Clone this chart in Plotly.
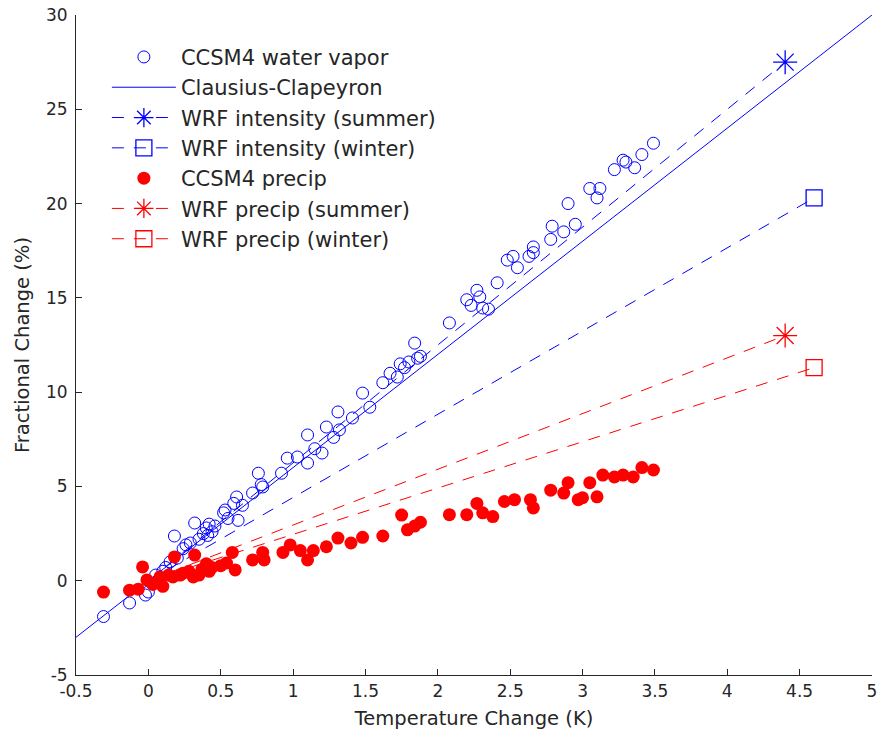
import plotly.graph_objects as go

# ---- data ----
wv_temp = [-0.31, -0.13, -0.02, 0.0, 0.05, 0.10, 0.12, 0.15, 0.18, 0.20, 0.24, 0.26, 0.29, 0.32,
           0.35, 0.38, 0.40, 0.41, 0.42, 0.44, 0.46, 0.52, 0.53, 0.55, 0.59, 0.61, 0.62, 0.65,
           0.72, 0.76, 0.78, 0.79, 0.92, 0.96, 1.03, 1.10, 1.10, 1.15, 1.20, 1.23, 1.28, 1.31,
           1.32, 1.41, 1.48, 1.53, 1.62, 1.67, 1.72, 1.74, 1.77, 1.80, 1.84, 1.86, 1.88, 2.08,
           2.20, 2.23, 2.27, 2.29, 2.31, 2.35, 2.41, 2.48, 2.52, 2.55, 2.63, 2.66, 2.66, 2.78,
           2.79, 2.87, 2.95, 2.90, 3.05, 3.10, 3.12, 3.22, 3.28, 3.30, 3.36, 3.41, 3.49]
wv_change = [-1.9, -1.18, -0.76, -0.6, 0.3, 0.5, 0.7, 1.0, 2.37, 1.2, 1.7, 1.9, 2.0, 3.06,
             2.2, 2.5, 2.8, 2.4, 3.0, 2.6, 2.9, 3.6, 3.75, 3.3, 4.1, 4.44, 3.2, 4.0,
             4.65, 5.7, 5.1, 4.97, 5.7, 6.5, 6.56, 6.24, 7.73, 7.0, 6.77, 8.15, 7.6, 8.95,
             8.0, 8.63, 9.95, 9.2, 10.5, 11.0, 10.8, 11.5, 11.3, 11.6, 12.6, 11.8, 11.9, 13.67,
             14.9, 14.6, 15.4, 15.05, 14.46, 14.4, 15.8, 17.0, 17.2, 16.6, 17.2, 17.4, 17.7, 18.1,
             18.8, 18.5, 18.9, 20.0, 20.8, 20.3, 20.8, 21.8, 22.3, 22.2, 21.9, 22.6, 23.2]

pr_temp = [-0.31, -0.13, -0.07, -0.04, -0.01, 0.03, 0.08, 0.10, 0.14, 0.17, 0.18, 0.22, 0.24,
           0.28, 0.31, 0.32, 0.35, 0.37, 0.40, 0.42, 0.44, 0.50, 0.54, 0.58, 0.60, 0.72, 0.79,
           0.80, 0.93, 0.98, 1.05, 1.10, 1.14, 1.23, 1.31, 1.40, 1.48, 1.62, 1.75, 1.79, 1.84,
           1.88, 2.08, 2.20, 2.27, 2.31, 2.38, 2.46, 2.53, 2.64, 2.66, 2.78, 2.87, 2.90, 2.97,
           3.00, 3.05, 3.10, 3.14, 3.22, 3.28, 3.35, 3.41, 3.49]
pr_change = [-0.6, -0.5, -0.45, 0.73, 0.04, -0.2, 0.2, -0.3, 0.3, 0.2, 1.26, 0.3, 0.4,
             0.5, 0.2, 1.36, 0.3, 0.6, 0.9, 0.5, 0.7, 0.8, 0.94, 1.5, 0.57, 1.1, 1.5,
             1.1, 1.5, 1.9, 1.6, 1.1, 1.6, 1.8, 2.26, 2.0, 2.3, 2.37, 3.48, 2.7, 2.9,
             3.1, 3.5, 3.5, 4.1, 3.6, 3.4, 4.2, 4.3, 4.3, 3.86, 4.8, 4.65, 5.2, 4.3,
             4.4, 5.2, 4.45, 5.6, 5.5, 5.6, 5.5, 6.0, 5.87]

cc_temp = [-0.5, 5.0]
cc_change = [-3.0, 30.0]

wrf_names = ["WRF intensity (summer)", "WRF intensity (winter)",
             "WRF precip (summer)", "WRF precip (winter)"]
wrf_temp_start = [0.0, 0.0, 0.0, 0.0]
wrf_change_start = [0.0, 0.0, 0.0, 0.0]
wrf_temp_end = [4.4, 4.6, 4.4, 4.6]
wrf_change_end = [27.5, 20.3, 13.0, 11.3]

x_ticks = [-0.5, 0, 0.5, 1, 1.5, 2, 2.5, 3, 3.5, 4, 4.5, 5]
x_tick_labels = ["-0.5", "0", "0.5", "1", "1.5", "2", "2.5", "3", "3.5", "4", "4.5", "5"]
y_ticks = [-5, 0, 5, 10, 15, 20, 25, 30]
y_tick_labels = ["-5", "0", "5", "10", "15", "20", "25", "30"]

# ---- styles ----
BLUE = "#0000FF"
RED = "#FF0000"
TXT = "#262626"
FONT = "DejaVu Sans"
wrf_colors = [BLUE, BLUE, RED, RED]
wrf_symbols = ["asterisk-open", "square-open", "asterisk-open", "square-open"]
wrf_sizes = [20, 16, 20, 16]
wrf_ranks = [3, 4, 6, 7]

fig = go.Figure()

fig.add_trace(go.Scatter(
    x=wv_temp, y=wv_change, mode="markers", name="CCSM4 water vapor",
    marker=dict(symbol="circle-open", size=12, color=BLUE, line=dict(width=1, color=BLUE)),
    legendrank=1))

fig.add_trace(go.Scatter(
    x=cc_temp, y=cc_change, mode="lines", name="Clausius-Clapeyron",
    line=dict(color=BLUE, width=1), legendrank=2))

for i in range(4):
    fig.add_trace(go.Scatter(
        x=[wrf_temp_start[i], wrf_temp_end[i]], y=[wrf_change_start[i], wrf_change_end[i]],
        mode="lines", line=dict(color=wrf_colors[i], width=1, dash="12px,10px"),
        showlegend=False, hoverinfo="skip"))
    fig.add_trace(go.Scatter(
        x=[wrf_temp_end[i]], y=[wrf_change_end[i]], mode="lines+markers", name=wrf_names[i],
        line=dict(color=wrf_colors[i], width=1, dash="12px,10px"),
        marker=dict(symbol=wrf_symbols[i], size=wrf_sizes[i], color=wrf_colors[i],
                    line=dict(width=1.3, color=wrf_colors[i])),
        legendrank=wrf_ranks[i]))

fig.add_trace(go.Scatter(
    x=pr_temp, y=pr_change, mode="markers", name="CCSM4 precip",
    marker=dict(symbol="circle", size=13, color=RED, line=dict(width=0)),
    legendrank=5))

axis_common = dict(showgrid=False, zeroline=False, showline=True, linecolor=TXT, linewidth=1,
                   ticks="inside", ticklen=6, tickcolor=TXT, tickwidth=1, mirror=False,
                   automargin=False,
                   tickfont=dict(family=FONT, size=17, color=TXT))

fig.update_layout(
    width=881, height=738,
    margin=dict(l=76, r=9, t=15, b=63),
    paper_bgcolor="white", plot_bgcolor="white",
    xaxis=dict(range=[-0.5, 5], tickvals=x_ticks, ticktext=x_tick_labels, ticklabelstandoff=1,
               title=dict(text="Temperature Change (K)", font=dict(family=FONT, size=19.5, color=TXT),
                          standoff=10), **axis_common),
    yaxis=dict(range=[-5, 30], tickvals=y_ticks, ticktext=y_tick_labels, ticklabelstandoff=4,
               title=dict(text="Fractional Change (%)", font=dict(family=FONT, size=19.5, color=TXT),
                          standoff=11), **axis_common),
    legend=dict(x=0.0388, y=0.967, xanchor="left", yanchor="top", bgcolor="rgba(0,0,0,0)",
                font=dict(family=FONT, size=21, color=TXT), itemwidth=64,
                traceorder="normal"),
    showlegend=True,
)

fig.write_html("out.html", config={"displayModeBar": False},
               post_script="document.body.style.margin='0';")
